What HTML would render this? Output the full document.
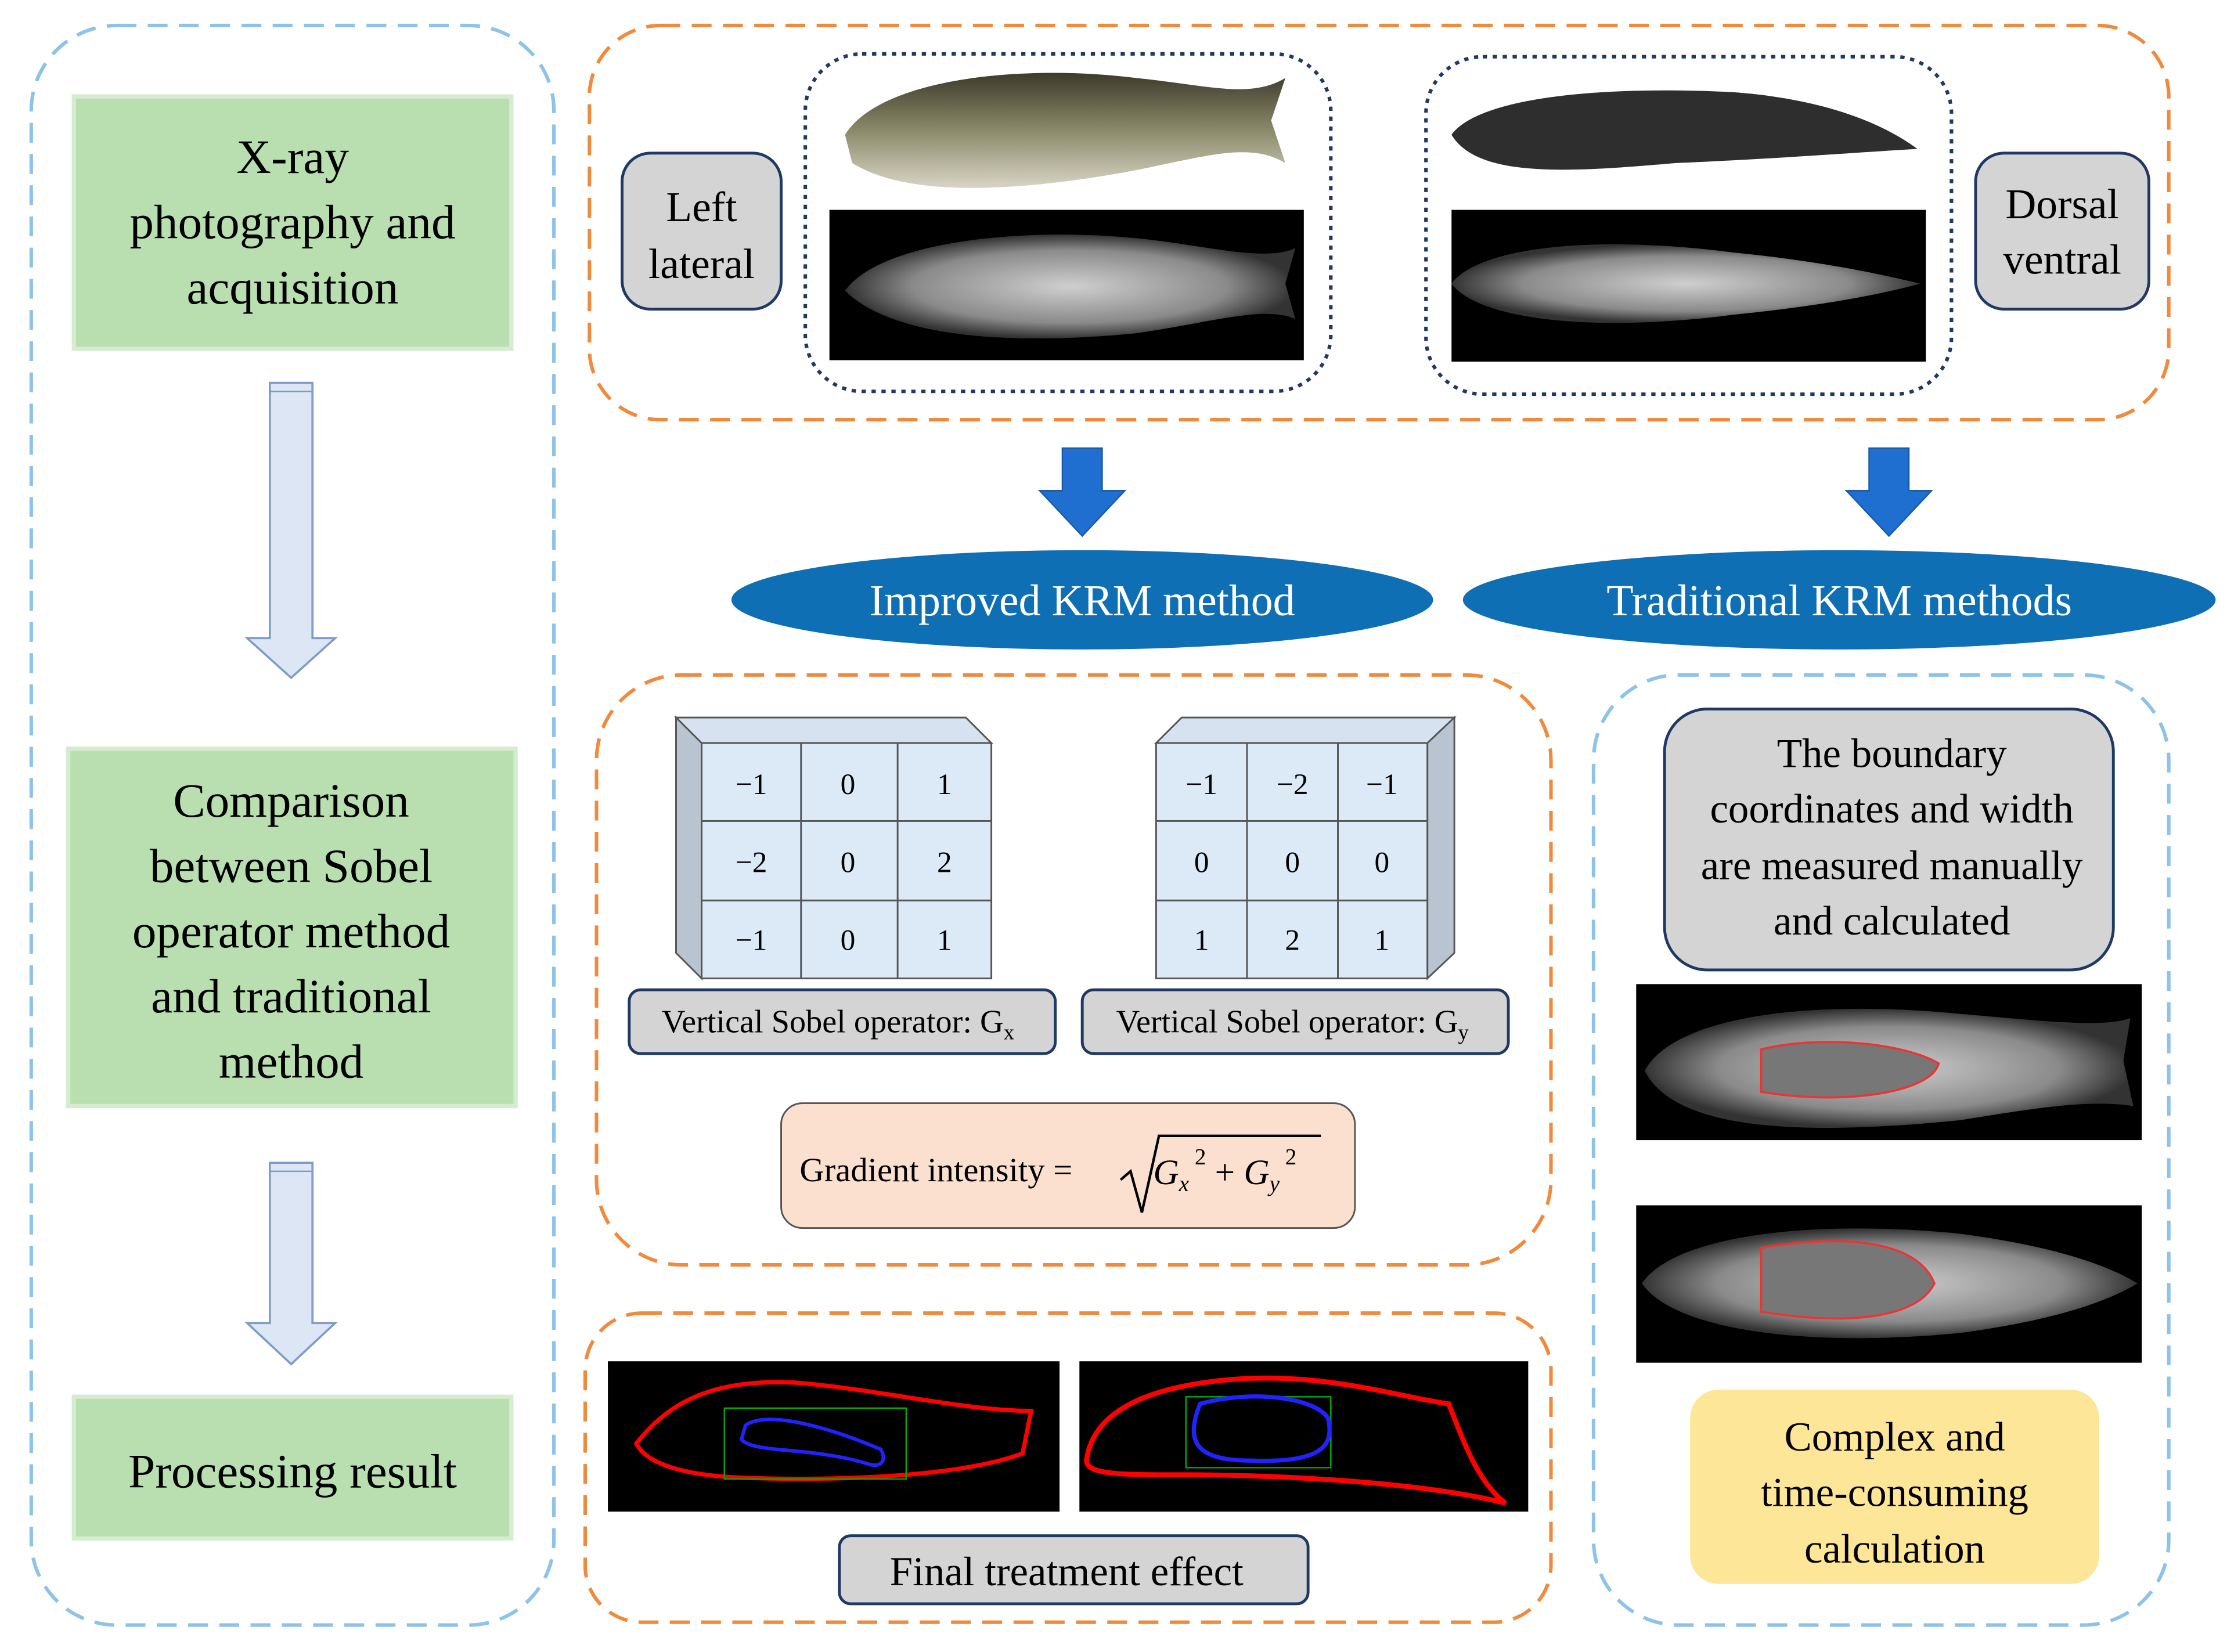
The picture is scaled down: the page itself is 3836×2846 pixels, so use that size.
<!DOCTYPE html>
<html><head><meta charset="utf-8"><style>
html,body{margin:0;padding:0;background:#fff;}
svg{display:block}
svg text{font-family:"Liberation Serif","Times New Roman",serif;}
</style></head><body>
<svg width="3836" height="2846" viewBox="0 0 1568 1165" preserveAspectRatio="none" xmlns="http://www.w3.org/2000/svg" font-family="'Liberation Serif', 'Times New Roman', serif">
<defs>
<linearGradient id="fishg" x1="0" y1="0" x2="0" y2="1"><stop offset="0" stop-color="#3d3a2a"/><stop offset="0.5" stop-color="#8a8a6a"/><stop offset="1" stop-color="#d8d4c4"/></linearGradient>
<radialGradient id="xr" cx="0.5" cy="0.5" r="0.5"><stop offset="0" stop-color="#cfcfcf"/><stop offset="0.7" stop-color="#8a8a8a"/><stop offset="1" stop-color="#333"/></radialGradient>
</defs>
<!-- Left panel -->
<rect x="22" y="18" width="368" height="1128" rx="60" fill="none" stroke="#8dc3e8" stroke-width="2.5" stroke-dasharray="14,8"/>
<rect x="52" y="68" width="308" height="178" fill="#b9dfb1" stroke="#d6ecd0" stroke-width="3"/>
<text x="206" y="122" font-size="34" text-anchor="middle">X-ray</text>
<text x="206" y="168" font-size="34" text-anchor="middle">photography and</text>
<text x="206" y="214" font-size="34" text-anchor="middle">acquisition</text>
<g fill="#dce6f5" stroke="#7f9cc6" stroke-width="1.5">
<path d="M190,270 H220 V450 H236 L205,478 L174,450 H190 Z"/>
<path d="M190,820 H220 V933 H236 L205,962 L174,933 H190 Z"/>
</g>
<line x1="190" y1="276" x2="220" y2="276" stroke="#7f9cc6"/><line x1="190" y1="826" x2="220" y2="826" stroke="#7f9cc6"/>
<rect x="48" y="528" width="315" height="252" fill="#b9dfb1" stroke="#d6ecd0" stroke-width="3"/>
<text x="205" y="576" font-size="34" text-anchor="middle">Comparison</text>
<text x="205" y="622" font-size="34" text-anchor="middle">between Sobel</text>
<text x="205" y="668" font-size="34" text-anchor="middle">operator method</text>
<text x="205" y="714" font-size="34" text-anchor="middle">and traditional</text>
<text x="205" y="760" font-size="34" text-anchor="middle">method</text>
<rect x="52" y="985" width="308" height="100" fill="#b9dfb1" stroke="#d6ecd0" stroke-width="3"/>
<text x="206" y="1049" font-size="34" text-anchor="middle">Processing result</text>

<!-- Top panel -->
<rect x="415" y="18" width="1112" height="278" rx="50" fill="none" stroke="#f08a3c" stroke-width="2.5" stroke-dasharray="14,8"/>
<rect x="438" y="108" width="112" height="110" rx="20" fill="#d4d4d4" stroke="#1f3864" stroke-width="2"/>
<text x="494" y="156" font-size="30" text-anchor="middle">Left</text>
<text x="494" y="196" font-size="30" text-anchor="middle">lateral</text>
<rect x="567" y="38" width="370" height="238" rx="40" fill="none" stroke="#1f3864" stroke-width="2.5" stroke-dasharray="3,4"/>
<path d="M595,95 C620,55 720,45 800,55 C850,60 880,70 905,55 L895,85 L905,115 C880,100 850,110 800,120 C720,135 640,140 600,115 Z" fill="url(#fishg)"/>
<rect x="584" y="148" width="334" height="106" fill="#000"/>
<path d="M595,205 C620,170 720,160 800,168 C850,173 890,185 912,175 L905,200 L912,225 C890,215 850,228 800,235 C720,243 630,240 595,205 Z" fill="url(#xr)"/>
<rect x="1004" y="40" width="370" height="238" rx="40" fill="none" stroke="#1f3864" stroke-width="2.5" stroke-dasharray="3,4"/>
<path d="M1022,95 C1040,70 1120,60 1220,65 C1290,70 1330,90 1350,105 C1300,108 1250,112 1180,115 C1100,122 1040,125 1022,95 Z" fill="#2e2e2e"/>
<rect x="1022" y="148" width="334" height="107" fill="#000"/>
<path d="M1022,200 C1040,175 1120,165 1220,178 C1290,185 1330,195 1352,200 C1330,206 1290,215 1220,222 C1120,235 1040,225 1022,200 Z" fill="url(#xr)"/>
<rect x="1391" y="108" width="122" height="110" rx="20" fill="#d4d4d4" stroke="#1f3864" stroke-width="2"/>
<text x="1452" y="154" font-size="30" text-anchor="middle">Dorsal</text>
<text x="1452" y="193" font-size="30" text-anchor="middle">ventral</text>

<!-- Blue arrows -->
<path d="M748,316 H776 V346 H792 L762,378 L732,346 H748 Z" fill="#1f6fd0" stroke="#1a5aa8"/>
<path d="M1316,316 H1344 V346 H1360 L1330,378 L1300,346 H1316 Z" fill="#1f6fd0" stroke="#1a5aa8"/>
<ellipse cx="762" cy="423" rx="247" ry="35" fill="#0e6fb5"/>
<text x="762" y="434" font-size="31" fill="#fff" text-anchor="middle">Improved KRM method</text>
<ellipse cx="1295" cy="423" rx="265" ry="35" fill="#0e6fb5"/>
<text x="1295" y="434" font-size="31" fill="#fff" text-anchor="middle">Traditional KRM methods</text>

<!-- Middle panel -->
<rect x="420" y="476" width="672" height="416" rx="60" fill="none" stroke="#f08a3c" stroke-width="2.5" stroke-dasharray="14,8"/>
<g stroke="#555" stroke-width="1.2">
<path d="M476,506 H680 L698,524 H494 Z" fill="#d6e2ef"/>
<path d="M476,506 L494,524 V690 L476,672 Z" fill="#b8c4d0"/>
<rect x="494" y="524" width="204" height="166" fill="#dce9f7"/>
<line x1="564" y1="524" x2="564" y2="690"/><line x1="632" y1="524" x2="632" y2="690"/>
<line x1="494" y1="579" x2="698" y2="579"/><line x1="494" y1="635" x2="698" y2="635"/>
<path d="M832,506 H1024 L1005,524 H814 Z" fill="#d6e2ef"/>
<path d="M1024,506 V672 L1005,690 V524 Z" fill="#b8c4d0"/>
<rect x="814" y="524" width="191" height="166" fill="#dce9f7"/>
<line x1="878" y1="524" x2="878" y2="690"/><line x1="942" y1="524" x2="942" y2="690"/>
<line x1="814" y1="579" x2="1005" y2="579"/><line x1="814" y1="635" x2="1005" y2="635"/>
</g>
<g font-size="21" text-anchor="middle">
<text x="529" y="560">−1</text><text x="597" y="560">0</text><text x="665" y="560">1</text>
<text x="529" y="615">−2</text><text x="597" y="615">0</text><text x="665" y="615">2</text>
<text x="529" y="670">−1</text><text x="597" y="670">0</text><text x="665" y="670">1</text>
<text x="846" y="560">−1</text><text x="910" y="560">−2</text><text x="973" y="560">−1</text>
<text x="846" y="615">0</text><text x="910" y="615">0</text><text x="973" y="615">0</text>
<text x="846" y="670">1</text><text x="910" y="670">2</text><text x="973" y="670">1</text>
</g>
<rect x="443" y="698" width="300" height="45" rx="8" fill="#d4d4d4" stroke="#1f3864" stroke-width="2"/>
<text x="590" y="728" font-size="23" text-anchor="middle">Vertical Sobel operator: G<tspan font-size="15" dy="5">x</tspan></text>
<rect x="762" y="698" width="300" height="45" rx="8" fill="#d4d4d4" stroke="#1f3864" stroke-width="2"/>
<text x="910" y="728" font-size="23" text-anchor="middle">Vertical Sobel operator: G<tspan font-size="15" dy="5">y</tspan></text>
<rect x="550" y="778" width="404" height="88" rx="15" fill="#fbe0d0" stroke="#555" stroke-width="1.2"/>
<text x="563" y="833" font-size="24">Gradient intensity =</text>
<path d="M789,832 L796,826 L804,855 L816,801 H930" fill="none" stroke="#000" stroke-width="1.8"/>
<text x="812" y="835" font-size="25" font-style="italic">G<tspan font-size="16" dy="5">x</tspan><tspan font-size="16" dy="-19" font-style="normal"> 2</tspan><tspan dy="14" font-style="normal"> + </tspan>G<tspan font-size="16" dy="5">y</tspan><tspan font-size="16" dy="-19" font-style="normal"> 2</tspan></text>

<!-- Bottom panel -->
<rect x="412" y="926" width="680" height="218" rx="40" fill="none" stroke="#f08a3c" stroke-width="2.5" stroke-dasharray="14,8"/>
<rect x="428" y="960" width="318" height="106" fill="#000"/>
<path d="M448,1018 C470,990 500,972 560,975 C620,980 680,995 726,995 L720,1025 C680,1040 600,1045 520,1042 C480,1040 455,1032 448,1018 Z" fill="none" stroke="#f00" stroke-width="3"/>
<rect x="510" y="993" width="128" height="50" fill="none" stroke="#0a0" stroke-width="1"/>
<path d="M525,1005 C540,995 580,1005 620,1022 C625,1030 620,1036 610,1032 C570,1020 530,1025 522,1015 Z" fill="none" stroke="#22f" stroke-width="2.5"/>
<rect x="760" y="960" width="316" height="106" fill="#000"/>
<path d="M765,1030 C770,990 820,975 880,972 C940,970 985,985 1020,990 C1030,1015 1040,1045 1060,1060 C1000,1045 900,1040 830,1040 C790,1040 765,1040 765,1030 Z" fill="none" stroke="#f00" stroke-width="3.5"/>
<rect x="835" y="985" width="102" height="50" fill="none" stroke="#0a0" stroke-width="1"/>
<path d="M845,990 C880,980 925,985 935,1000 C940,1020 930,1032 880,1030 C840,1030 835,1015 845,990 Z" fill="none" stroke="#22f" stroke-width="3"/>
<rect x="591" y="1083" width="330" height="48" rx="8" fill="#d4d4d4" stroke="#1f3864" stroke-width="2"/>
<text x="751" y="1118" font-size="29" text-anchor="middle">Final treatment effect</text>

<!-- Right panel -->
<rect x="1122" y="476" width="405" height="670" rx="60" fill="none" stroke="#8dc3e8" stroke-width="2.5" stroke-dasharray="14,8"/>
<rect x="1172" y="500" width="316" height="184" rx="30" fill="#d4d4d4" stroke="#1f3864" stroke-width="2"/>
<g font-size="29" text-anchor="middle">
<text x="1332" y="541">The boundary</text>
<text x="1332" y="580">coordinates and width</text>
<text x="1332" y="620">are measured manually</text>
<text x="1332" y="659">and calculated</text>
</g>
<rect x="1152" y="694" width="356" height="110" fill="#000"/>
<path d="M1158,755 C1180,715 1280,705 1380,715 C1440,720 1480,725 1500,718 L1495,748 L1502,780 C1470,775 1430,782 1380,790 C1280,800 1180,800 1158,755 Z" fill="url(#xr)"/>
<path d="M1240,740 C1280,730 1340,735 1365,750 C1360,770 1300,780 1240,770 Z" fill="#777" stroke="#e33" stroke-width="1.5"/>
<rect x="1152" y="850" width="356" height="111" fill="#000"/>
<path d="M1156,905 C1180,870 1280,860 1380,870 C1440,878 1480,890 1505,905 C1480,920 1440,932 1380,940 C1280,950 1180,940 1156,905 Z" fill="url(#xr)"/>
<path d="M1240,880 C1300,870 1350,875 1362,905 C1350,930 1300,935 1240,925 Z" fill="#777" stroke="#e33" stroke-width="1.5"/>
<rect x="1190" y="980" width="288" height="137" rx="20" fill="#fde697"/>
<g font-size="29" text-anchor="middle">
<text x="1334" y="1023">Complex and</text>
<text x="1334" y="1062">time-consuming</text>
<text x="1334" y="1102">calculation</text>
</g>
</svg>
</body></html>
